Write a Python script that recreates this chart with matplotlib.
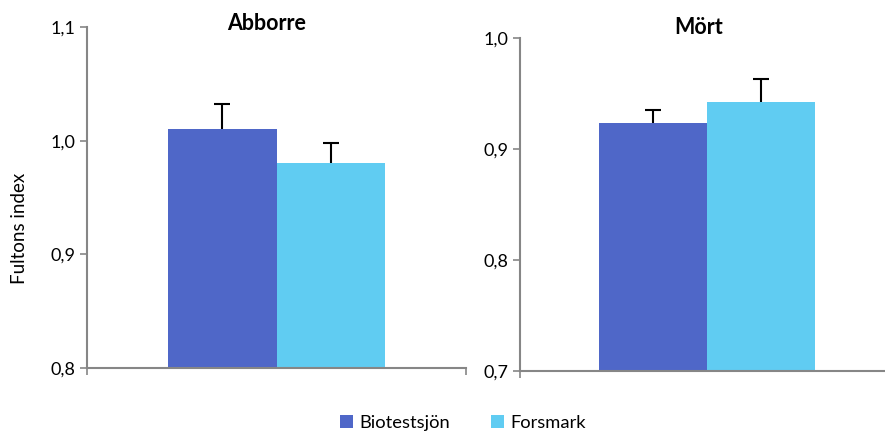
import matplotlib.pyplot as plt
from matplotlib.ticker import FuncFormatter

plt.rcParams['font.family'] = ['Lato', 'DejaVu Sans']

# data
species = ["Abborre", "Mört"]
series = ["Biotestsjön", "Forsmark"]
means = {
    "Abborre": [1.010, 0.980],
    "Mört": [0.923, 0.942],
}
errors = {
    "Abborre": [0.022, 0.018],
    "Mört": [0.012, 0.021],
}
ylims = {"Abborre": (0.8, 1.1), "Mört": (0.7, 1.0)}
colors = ["#4F67C8", "#60CCF2"]
axis_grey = "#868686"

fig = plt.figure(figsize=(8.85, 4.33), dpi=100)
ax_specs = {
    "Abborre": [87 / 885, 65 / 433, (466 - 87) / 885, (368 - 27) / 433],
    "Mört": [520 / 885, 62 / 433, (894 - 520) / 885, (371 - 38) / 433],
}

bar_w = 0.2875
comma = FuncFormatter(lambda v, p: f"{v:.1f}".replace(".", ","))

handles = []
for sp in species:
    ax = fig.add_axes(ax_specs[sp])
    for i, (val, err, c) in enumerate(zip(means[sp], errors[sp], colors)):
        x = (i - 0.5) * bar_w
        b = ax.bar(x, val - ylims[sp][0], bottom=ylims[sp][0], width=bar_w,
                   color=c, zorder=2, label=series[i])
        eb = ax.errorbar(x, val, yerr=[[0], [err]], fmt="none", ecolor="black",
                         elinewidth=1.5, capsize=5.5, capthick=1.5, zorder=1)
        # only the upper cap, like the original
        eb[1][0].set_visible(False)
        if sp == "Abborre":
            handles.append(b)
    ax.set_xlim(-0.5, 0.5)
    ax.set_ylim(*ylims[sp])
    ax.set_yticks([ylims[sp][0] + 0.1 * k for k in range(4)])
    ax.yaxis.set_major_formatter(comma)
    ax.set_xticks([-0.5, 0.5])
    ax.set_xticklabels([])
    for s in ["top", "right"]:
        ax.spines[s].set_visible(False)
    for s in ["left", "bottom"]:
        ax.spines[s].set_color(axis_grey)
        ax.spines[s].set_linewidth(1.5)
    ax.tick_params(axis="both", colors=axis_grey, length=5, width=1.2,
                   labelsize=13, labelcolor="black")
    ax.patch.set_alpha(0)

fig.text(267 / 885, 1 - 24 / 433, "Abborre", ha="center", va="center",
         fontsize=15.5, fontweight="bold")
fig.text(699 / 885, 1 - 27 / 433, "Mört", ha="center", va="center",
         fontsize=15.5, fontweight="bold")
fig.text(20 / 885, 1 - 228 / 433, "Fultons index", ha="center", va="center",
         rotation=90, fontsize=13.5)

fig.legend(handles=handles, labels=series, loc="center",
           bbox_to_anchor=(463 / 885, 1 - 423 / 433), ncol=2, frameon=False,
           fontsize=13.2, handlelength=0.7, handleheight=0.7,
           handletextpad=0.35, columnspacing=2.2)

fig.savefig("out.png", dpi=100)
